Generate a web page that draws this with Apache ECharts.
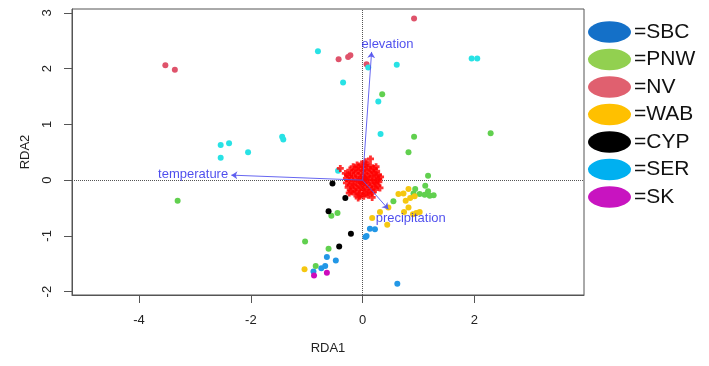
<!DOCTYPE html>
<html>
<head>
<meta charset="utf-8">
<script src="https://cdn.jsdelivr.net/npm/echarts@6/dist/echarts.min.js"></script>
<style>
  html, body { margin: 0; padding: 0; background: #fff; }
  #rda { width: 709px; height: 366px; }
</style>
</head>
<body>
<div id="rda"></div>
<script>
// 站点得分 (RDA1, RDA2)
var groupNames = ['SBC', 'PNW', 'NV', 'WAB', 'CYP', 'SER', 'SK'];
var pointColors = ['#2297E6', '#61D04F', '#DF536B', '#F5C710', '#000000', '#28E2E5', '#CD0BBC'];
var legendColors = ['#1470c8', '#92d050', '#e0606f', '#ffc000', '#000000', '#00b0f0', '#c814c0'];

var sbc = [[-0.88,-1.64],[-0.74,-1.58],[-0.67,-1.54],[-0.64,-1.38],[-0.48,-1.44],[0.62,-1.86],
           [0.07,-1.00],[0.05,-1.02],[0.13,-0.87],[0.22,-0.88]];
var pnw = [[-3.31,-0.37],[-1.03,-1.10],[-0.84,-1.54],[-0.61,-1.23],[-0.56,-0.64],[-0.45,-0.59],
           [0.35,1.54],[0.92,0.78],[2.29,0.84],[0.82,0.50],[0.55,-0.38],[0.94,-0.16],
           [0.91,-0.24],[1.02,-0.25],[1.17,0.08],[1.12,-0.10],[1.17,-0.20],[1.11,-0.26],
           [1.20,-0.28],[1.27,-0.27]];
var nv  = [[-3.53,2.06],[-3.36,1.98],[0.92,2.90],[-0.43,2.17],[-0.26,2.21],[-0.22,2.24],[0.07,2.08]];
var wab = [[-1.04,-1.60],[0.17,-0.68],[0.31,-0.57],[0.44,-0.80],[0.46,-0.49],[0.64,-0.25],
           [0.73,-0.24],[0.82,-0.16],[0.77,-0.37],[0.85,-0.32],[0.93,-0.29],[0.82,-0.49],
           [0.74,-0.57],[0.90,-0.61],[0.96,-0.59],[1.02,-0.57]];
var cyp = [[-0.54,-0.06],[-0.31,-0.32],[-0.61,-0.56],[-0.21,-0.96],[-0.42,-1.19]];
var ser = [[-0.80,2.31],[-2.54,0.63],[-2.39,0.66],[-2.05,0.50],[-1.44,0.78],[-1.42,0.73],
           [-2.54,0.40],[0.10,2.02],[0.61,2.07],[1.95,2.18],[2.05,2.18],[-0.35,1.75],
           [0.28,1.41],[0.32,0.83],[-0.44,0.17]];
var sk  = [[-0.87,-1.71],[-0.64,-1.66]];
var groupData = [sbc, pnw, nv, wab, cyp, ser, sk];

// 原点附近的红色 + 点
var sitePlus = [[0,0],[0.03,0.03],[-0.03,-0.02],
  [0.06,0.00],[0.03,0.05],[-0.03,0.05],[-0.06,0.00],[-0.03,-0.05],[0.03,-0.05],
  [0.12,0.01],[0.10,0.07],[0.04,0.11],[-0.03,0.12],[-0.09,0.08],[-0.12,0.01],
  [-0.10,-0.07],[-0.04,-0.11],[0.03,-0.12],[0.09,-0.08],
  [0.18,0.00],[0.17,0.07],[0.13,0.13],[0.07,0.17],[0.00,0.18],[-0.07,0.17],[-0.13,0.13],
  [-0.17,0.06],[-0.18,-0.01],[-0.16,-0.08],[-0.12,-0.14],[-0.06,-0.17],[0.01,-0.18],
  [0.08,-0.16],[0.13,-0.12],[0.17,-0.06],
  [0.24,0.00],[0.23,0.08],[0.20,0.14],[0.15,0.19],[0.08,0.23],[0.00,0.24],[-0.08,0.23],
  [-0.15,0.19],[-0.20,0.13],[-0.23,0.07],[-0.24,-0.01],[-0.22,-0.09],[-0.18,-0.16],
  [-0.12,-0.21],[-0.05,-0.24],[0.03,-0.24],[0.10,-0.22],[0.16,-0.18],[0.21,-0.12],[0.23,-0.05],
  [0.29,0.02],[0.28,0.09],[0.25,0.16],[0.20,0.21],[0.14,0.26],[0.06,0.29],[-0.02,0.29],
  [-0.10,0.27],[-0.17,0.24],[-0.23,0.18],[-0.27,0.10],[-0.29,0.03],[-0.29,-0.05],
  [-0.26,-0.13],[-0.21,-0.20],[-0.14,-0.25],[-0.06,-0.29],[0.02,-0.29],[0.10,-0.27],
  [0.17,-0.23],[0.23,-0.17],[0.27,-0.10],[0.29,-0.03],
  [0.32,0.06],[-0.31,0.12],[0.05,0.33],[-0.08,-0.32],[0.24,0.24],[-0.24,-0.23],
  [-0.40,0.21],[0.14,0.38],[0.17,-0.31],[0.31,-0.14]];

// 环境因子箭头
var arrowNames = ['temperature', 'elevation', 'precipitation'];
var arrowTips = [[-2.35,0.09],[0.16,2.30],[0.46,-0.52]];
var arrowLabelPos = [[-2.37,0.11],[0.445,2.44],[0.86,-0.69]];

var xTicks = [-4, -2, 0, 2];
var yTicks = [-2, -1, 0, 1, 2, 3];

var chart = echarts.init(document.getElementById('rda'));

var plusPath = 'path://M3,0H7V3H10V7H7V10H3V7H0V3H3Z';
var ellipsePath = 'path://M0,50A100,50 0 1,1 200,50A100,50 0 1,1 0,50Z';

var series = [];
for (var i = 0; i < groupNames.length; i++) {
  series.push({
    name: groupNames[i],
    type: 'scatter',
    symbol: 'circle',
    symbolSize: 6,
    itemStyle: { color: pointColors[i], opacity: 1 },
    data: groupData[i],
    z: 3
  });
}
series[0].markLine = {
  silent: true,
  symbol: 'none',
  label: { show: false },
  lineStyle: { type: 'dotted', color: '#555', width: 1 },
  data: [{ xAxis: 0 }, { yAxis: 0 }],
  z: 1
};
series.push({
  name: 'sites',
  type: 'scatter',
  symbol: plusPath,
  symbolSize: 7,
  itemStyle: { color: '#ff0000' },
  data: sitePlus,
  z: 4
});
series.push({
  name: 'arrows',
  type: 'lines',
  coordinateSystem: 'cartesian2d',
  symbol: ['none', 'arrow'],
  symbolSize: 6,
  lineStyle: { color: '#5555ee', width: 1, opacity: 0.9 },
  data: arrowTips.map(function (t) { return { coords: [[0, 0], t] }; }),
  z: 5
});
series.push({
  name: 'arrowLabels',
  type: 'scatter',
  symbolSize: 0,
  data: arrowLabelPos.map(function (p, k) {
    return {
      value: p,
      label: {
        show: true,
        formatter: arrowNames[k],
        position: k === 0 ? 'left' : 'inside',
        distance: 2,
        color: '#1f1fe8',
        fontSize: 13,
        fontFamily: 'Liberation Sans'
      }
    };
  }),
  z: 6
});

chart.setOption({
  animation: false,
  grid: { left: 72, right: 125, top: 9, bottom: 71, show: true, borderColor: '#555', borderWidth: 1, outerBoundsMode: 'none' },
  legend: {
    orient: 'vertical',
    left: 588,
    top: 21,
    padding: 0,
    itemWidth: 43,
    itemHeight: 22,
    itemGap: 5.5,
    icon: ellipsePath,
    formatter: '={name}',
    textStyle: { fontSize: 21, color: '#111', fontFamily: 'Liberation Sans', lineHeight: 22, padding: [0, 0, 0, -2] },
    data: groupNames.map(function (n, k) {
      return { name: n, itemStyle: { color: legendColors[k] } };
    })
  },
  xAxis: {
    type: 'value',
    min: -5.20,
    max: 3.96,
    name: 'RDA1',
    nameLocation: 'middle',
    nameGap: 47,
    nameTextStyle: { fontSize: 13, color: '#222', fontFamily: 'Liberation Sans' },
    axisLine: { show: true, onZero: false, lineStyle: { color: '#555' } },
    axisTick: { show: true, length: 8, customValues: xTicks, lineStyle: { color: '#555' } },
    axisLabel: { customValues: xTicks, margin: 19, fontSize: 13, color: '#222', fontFamily: 'Liberation Sans' },
    splitLine: { show: false }
  },
  yAxis: {
    type: 'value',
    min: -2.06,
    max: 3.07,
    name: 'RDA2',
    nameLocation: 'middle',
    nameRotate: 90,
    nameGap: 40,
    nameTextStyle: { fontSize: 13, color: '#222', fontFamily: 'Liberation Sans' },
    axisLine: { show: true, onZero: false, lineStyle: { color: '#555' } },
    axisTick: { show: true, length: 8, customValues: yTicks, lineStyle: { color: '#555' } },
    axisLabel: { customValues: yTicks, rotate: 90, margin: 18, fontSize: 13, color: '#222', fontFamily: 'Liberation Sans' },
    splitLine: { show: false }
  },
  series: series
});
</script>
</body>
</html>
